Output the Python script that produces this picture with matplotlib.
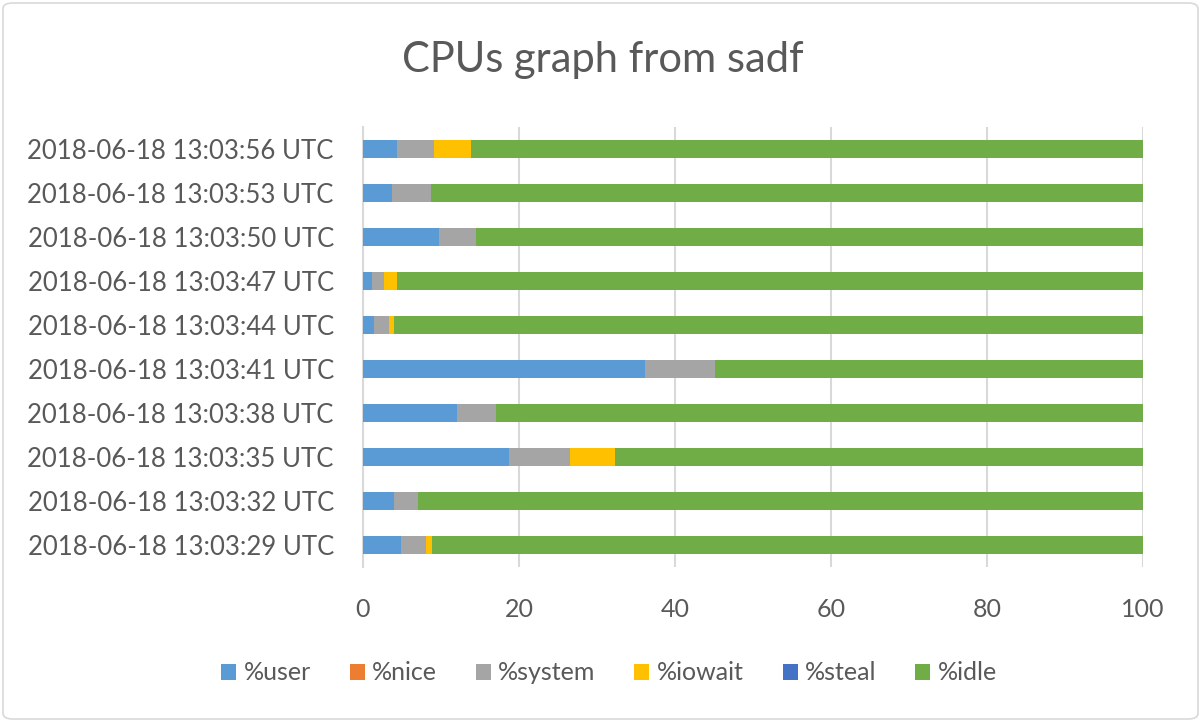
import matplotlib
matplotlib.use("Agg")
import matplotlib.pyplot as plt
from matplotlib.patches import FancyBboxPatch
import numpy as np

plt.rcParams['font.family'] = ['Lato', 'DejaVu Sans']

categories = [
    "2018-06-18 13:03:29 UTC", "2018-06-18 13:03:32 UTC", "2018-06-18 13:03:35 UTC",
    "2018-06-18 13:03:38 UTC", "2018-06-18 13:03:41 UTC", "2018-06-18 13:03:44 UTC",
    "2018-06-18 13:03:47 UTC", "2018-06-18 13:03:50 UTC", "2018-06-18 13:03:53 UTC",
    "2018-06-18 13:03:56 UTC",
]
user   = [4.9, 4.0, 18.7, 12.0, 36.2, 1.45, 1.1, 9.7, 3.7, 4.3]
nice   = [0.0, 0.0, 0.0, 0.0, 0.0, 0.0, 0.0, 0.0, 0.0, 0.0]
system = [3.2, 3.1, 7.9, 5.05, 8.9, 1.9, 1.6, 4.8, 5.05, 4.8]
iowait = [0.7, 0.0, 5.75, 0.0, 0.0, 0.65, 1.6, 0.0, 0.0, 4.75]
steal  = [0.0, 0.0, 0.0, 0.0, 0.0, 0.0, 0.0, 0.0, 0.0, 0.0]
idle   = [91.2, 92.9, 67.65, 82.95, 54.9, 96.0, 95.7, 85.5, 91.25, 86.15]

series = [("%user", user, "#5B9BD5"), ("%nice", nice, "#ED7D31"),
          ("%system", system, "#A5A5A5"), ("%iowait", iowait, "#FFC000"),
          ("%steal", steal, "#4472C4"), ("%idle", idle, "#70AD47")]

W, H = 1201, 722
fig = plt.figure(figsize=(W/100, H/100), dpi=100)
ax = fig.add_axes([363/W, 1-567/H, (1143-363)/W, (567-127)/H])

y = np.arange(len(categories))
left = np.zeros(len(categories))
handles = []
for name, vals, col in series:
    b = ax.barh(y, vals, left=left, height=0.4, color=col, label=name, zorder=3)
    left += np.array(vals)
    handles.append(b)

ax.set_xlim(0, 100)
ax.set_ylim(-0.5, len(categories)-0.5)
ax.set_yticks(y)
ax.set_yticklabels(categories)
ax.set_xticks([0, 20, 40, 60, 80, 100])
ax.xaxis.grid(True, color="#D9D9D9", linewidth=1.5, zorder=0)
for s in ["top", "right", "bottom"]:
    ax.spines[s].set_visible(False)
ax.spines["left"].set_color("#D9D9D9")
ax.spines["left"].set_linewidth(1.5)
ax.tick_params(axis="both", length=0, colors="#595959")
ax.tick_params(axis="y", pad=21, labelsize=18.5)
ax.tick_params(axis="x", pad=22, labelsize=18)

fig.text(603/W, 1-60/H, "CPUs graph from sadf", ha="center", va="center",
         fontsize=30, color="#595959")

leg = fig.legend(handles=handles, loc="center", bbox_to_anchor=(609/W, 1-673/H),
                 ncol=6, frameon=False, fontsize=18, handlelength=0.6, handleheight=0.6,
                 handletextpad=0.3, columnspacing=1.55, labelcolor="#595959")

border = FancyBboxPatch((3/W, 3/H), 1-6/W, 1-6/H, boxstyle="round,pad=0,rounding_size=0.008",
                        transform=fig.transFigure, fill=False, edgecolor="#D9D9D9", linewidth=1.2)
fig.patches.append(border)

fig.savefig("out.png", dpi=100)
